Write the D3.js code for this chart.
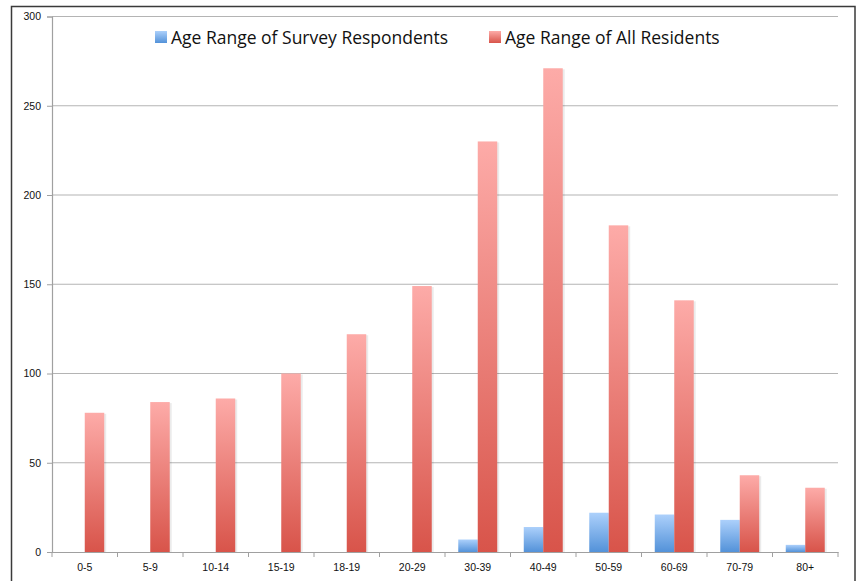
<!DOCTYPE html>
<html>
<head>
<meta charset="utf-8">
<script src="https://cdn.jsdelivr.net/npm/d3@7"></script>
<style>
  body { margin: 0; background: #fff; }
  svg { display: block; font-family: "Open Sans", "Noto Sans", sans-serif; }
</style>
</head>
<body>
<svg id="chart" width="858" height="581"></svg>
<script>
// data
var ageGroups = ["0-5", "5-9", "10-14", "15-19", "18-19", "20-29", "30-39", "40-49", "50-59", "60-69", "70-79", "80+"];
var respondents = [0, 0, 0, 0, 0, 0, 7, 14, 22, 21, 18, 4];
var residents = [78, 84, 86, 100, 122, 149, 230, 271, 183, 141, 43, 36];
var seriesNames = ["Age Range of Survey Respondents", "Age Range of All Residents"];
var yTicks = [0, 50, 100, 150, 200, 250, 300];

var svg = d3.select("#chart");
var plotL = 52, plotR = 838, plotT = 16.5, plotB = 552;

var defs = svg.append("defs");
function grad(id, c1, c2) {
  var g = defs.append("linearGradient").attr("id", id)
    .attr("x1", 0).attr("y1", 0).attr("x2", 0).attr("y2", 1);
  g.append("stop").attr("offset", "0%").attr("stop-color", c1);
  g.append("stop").attr("offset", "100%").attr("stop-color", c2);
}
grad("gBlue", "#acd0fb", "#5392d9");
grad("gRed", "#fdaba8", "#d8544a");

// outer frame
svg.append("rect").attr("x", 11.5).attr("y", 6.5).attr("width", 843.5).attr("height", 600)
  .attr("fill", "#fff").attr("stroke", "#3a3a3a").attr("stroke-width", 1.5);

var x = d3.scaleBand().domain(ageGroups).range([plotL, plotR]);
var x1 = d3.scaleBand().domain([0, 1]).range([0, x.bandwidth()]).paddingInner(0).paddingOuter(0.68);
var y = d3.scaleLinear().domain([0, 300]).range([plotB, plotT]);

// gridlines
svg.append("g").selectAll("line").data(yTicks.slice(1)).enter().append("line")
  .attr("x1", plotL).attr("x2", plotR)
  .attr("y1", function(d) { return y(d); }).attr("y2", function(d) { return y(d); })
  .attr("stroke", "#b4b4b4").attr("stroke-width", 1.2);

// y axis
var yAxis = svg.append("g").attr("transform", "translate(" + plotL + ",0)")
  .call(d3.axisLeft(y).tickValues(yTicks).tickSize(5).tickPadding(6));
yAxis.select(".domain").attr("stroke", "#a0a0a0").attr("stroke-width", 1.2);
yAxis.selectAll(".tick line").attr("stroke", "#a0a0a0");
yAxis.selectAll("text").attr("font-size", "10.5px").attr("fill", "#111");

// bars
var series = [respondents, residents];
var fills = ["url(#gBlue)", "url(#gRed)"];
series.forEach(function(vals, s) {
  var g = svg.append("g");
  var data = ageGroups.map(function(a, i) { return { cat: a, v: vals[i] }; }).filter(function(d) { return d.v > 0; });
  // faint shadow
  g.selectAll("rect.sh").data(data).enter().append("rect").attr("class", "sh")
    .attr("x", function(d) { return x(d.cat) + x1(s) + 2; })
    .attr("y", function(d) { return y(d.v) + 1; })
    .attr("width", x1.bandwidth())
    .attr("height", function(d) { return plotB - y(d.v) - 1; })
    .attr("fill", "#000").attr("opacity", 0.08);
  g.selectAll("rect.bar").data(data).enter().append("rect").attr("class", "bar")
    .attr("x", function(d) { return x(d.cat) + x1(s); })
    .attr("y", function(d) { return y(d.v); })
    .attr("width", x1.bandwidth())
    .attr("height", function(d) { return plotB - y(d.v); })
    .attr("fill", fills[s]);
});

// x axis
var xAxis = svg.append("g").attr("transform", "translate(0," + plotB + ")")
  .call(d3.axisBottom(x).tickSize(0).tickPadding(12));
xAxis.select(".domain").attr("stroke", "#a0a0a0").attr("stroke-width", 1.2);
xAxis.selectAll("text").attr("font-size", "10.5px").attr("fill", "#111");
svg.append("g").selectAll("line").data(ageGroups.concat(["end"])).enter().append("line")
  .attr("x1", function(d, i) { return plotL + i * x.step(); })
  .attr("x2", function(d, i) { return plotL + i * x.step(); })
  .attr("y1", plotB).attr("y2", plotB + 5)
  .attr("stroke", "#a0a0a0");

// legend
var legendX = [155, 489];
var leg = svg.append("g");
seriesNames.forEach(function(n, i) {
  leg.append("rect").attr("x", legendX[i]).attr("y", 31).attr("width", 12).attr("height", 12).attr("fill", fills[i]);
  leg.append("text").attr("x", legendX[i] + 16).attr("y", 44)
    .attr("font-size", "17.5px").attr("fill", "#111").text(n);
});
</script>
</body>
</html>
